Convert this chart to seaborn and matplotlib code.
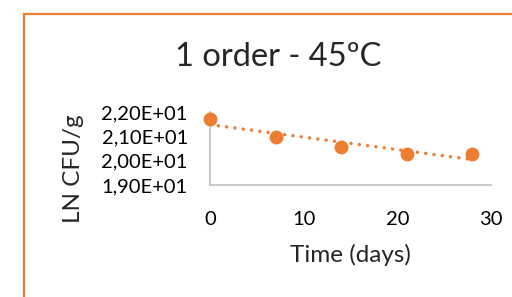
import numpy as np
import pandas as pd
import matplotlib
matplotlib.use("Agg")
import matplotlib.pyplot as plt
import seaborn as sns
from matplotlib.patches import Rectangle

# Data
days = [0, 7, 14, 21, 28]
ln_cfu = [21.73, 20.97, 20.55, 20.28, 20.28]
y_ticks = [19.0, 20.0, 21.0, 22.0]
y_tick_labels = ["1,90E+01", "2,00E+01", "2,10E+01", "2,20E+01"]
x_ticks = [0, 10, 20, 30]
title = "1 order - 45ºC"
xlabel = "Time (days)"
ylabel = "LN CFU/g"

df = pd.DataFrame({"days": days, "ln": ln_cfu})

sns.set_style("white")
plt.rcParams["font.family"] = ["Lato", "DejaVu Sans"]

orange = "#ED7D31"
grey = "#BFBFBF"

fig = plt.figure(figsize=(5.12, 2.97), dpi=100)
fig.patch.set_facecolor("white")

# Orange chart border (extends beyond the crop at right and bottom)
fig.patches.append(Rectangle((23.5 / 512, -0.2), 1.2, 1 - 13.5 / 297 + 0.2,
                             transform=fig.transFigure, fill=False,
                             edgecolor=orange, linewidth=1.6, zorder=0))

ax = fig.add_axes([210 / 512, 1 - 185 / 297, (491 - 210) / 512, (185 - 112) / 297])

sns.regplot(data=df, x="days", y="ln", ax=ax, scatter=False, ci=None,
            color=orange, truncate=True,
            line_kws=dict(linestyle=(0, (0.01, 2.4)), linewidth=2.5,
                          dash_capstyle="round", solid_capstyle="round"))
sns.scatterplot(data=df, x="days", y="ln", ax=ax, color=orange, s=100,
                edgecolor=orange, linewidth=0, clip_on=False, zorder=5)

ax.set_xlim(0, 30)
ax.set_ylim(19.0, 22.0)
ax.set_xticks(x_ticks)
ax.set_yticks(y_ticks)
ax.set_yticklabels(y_tick_labels)
ax.tick_params(axis="x", length=0, labelsize=14.5, colors="black", pad=19)
ax.tick_params(axis="y", length=0, labelsize=14.5, colors="black", pad=16)
for s in ["top", "right"]:
    ax.spines[s].set_visible(False)
for s in ["left", "bottom"]:
    ax.spines[s].set_color(grey)
    ax.spines[s].set_linewidth(1.2)
ax.set_xlabel("")
ax.set_ylabel("")
ax.set_facecolor("white")

fig.text(278 / 512, 1 - 57 / 297, title, ha="center", va="center", fontsize=23.5)
fig.text(350 / 512, 1 - 255 / 297, xlabel, ha="center", va="center", fontsize=17.5)
fig.text(74 / 512, 1 - 169 / 297, ylabel, ha="center", va="center",
         rotation=90, fontsize=17.5)

fig.savefig("out.png", dpi=100)
